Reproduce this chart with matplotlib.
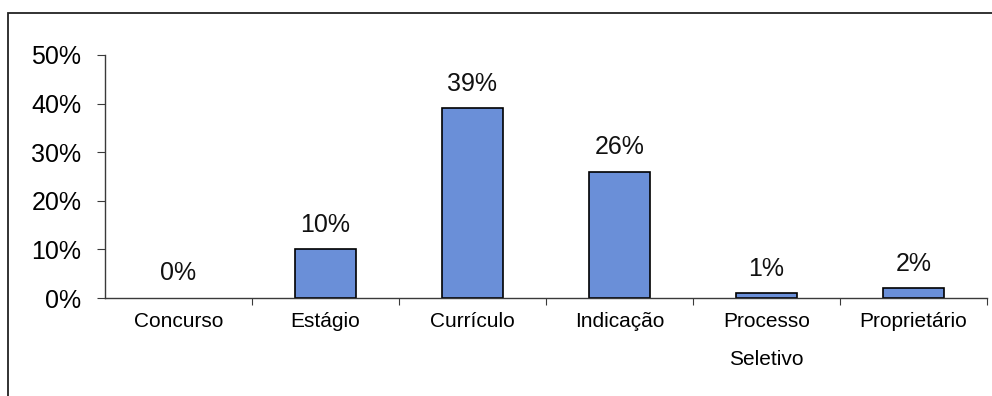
import matplotlib.pyplot as plt
from matplotlib.patches import Rectangle
from matplotlib.ticker import FuncFormatter

categories = ['Concurso', 'Estágio', 'Currículo', 'Indicação', 'Processo\nSeletivo', 'Proprietário']
values = [0, 10, 39, 26, 1, 2]
y_ticks = [0, 10, 20, 30, 40, 50]

BAR_COLOR = '#6A8FD8'
AXIS_COLOR = '#3a3a3a'

plt.rcParams['font.family'] = ['Liberation Sans', 'DejaVu Sans']

fig = plt.figure(figsize=(9.92, 3.96), dpi=100)

# outer chart frame, open to the right and bottom edges
fig.patches.append(Rectangle((8 / 992, -0.05), 1.0, (396 - 13) / 396 + 0.05,
                             transform=fig.transFigure, fill=False,
                             edgecolor='#222222', linewidth=1.3))

ax = fig.add_axes([105 / 992, 98 / 396, 882 / 992, 243 / 396])

x = list(range(len(categories)))
ax.bar(x, values, width=0.41, color=BAR_COLOR, edgecolor='black',
       linewidth=[1.2 if v else 0 for v in values])

for xi, v in zip(x, values):
    ax.annotate(f'{v}%', (xi, v), xytext=(0, 9), textcoords='offset points',
                ha='center', va='bottom', fontsize=18, color='#111111')

ax.set_xlim(-0.5, len(categories) - 0.5)
ax.set_ylim(0, 50)
ax.set_yticks(y_ticks)
ax.yaxis.set_major_formatter(FuncFormatter(lambda v, _: f'{v:.0f}%'))

# boundary ticks between categories, labels at the centres
ax.set_xticks([i + 0.5 for i in range(len(categories))])
ax.set_xticklabels([])
ax.set_xticks(x, minor=True)
ax.set_xticklabels(categories, minor=True, fontsize=15, linespacing=2.3)
ax.tick_params(axis='x', which='minor', length=0, pad=10)
ax.tick_params(axis='x', which='major', length=5, direction='out', color=AXIS_COLOR)
ax.tick_params(axis='y', length=6, direction='out', color=AXIS_COLOR, labelsize=18, pad=11)

for side in ['top', 'right']:
    ax.spines[side].set_visible(False)
for side in ['left', 'bottom']:
    ax.spines[side].set_color(AXIS_COLOR)
    ax.spines[side].set_linewidth(1.0)

fig.savefig('out.png', dpi=100)
